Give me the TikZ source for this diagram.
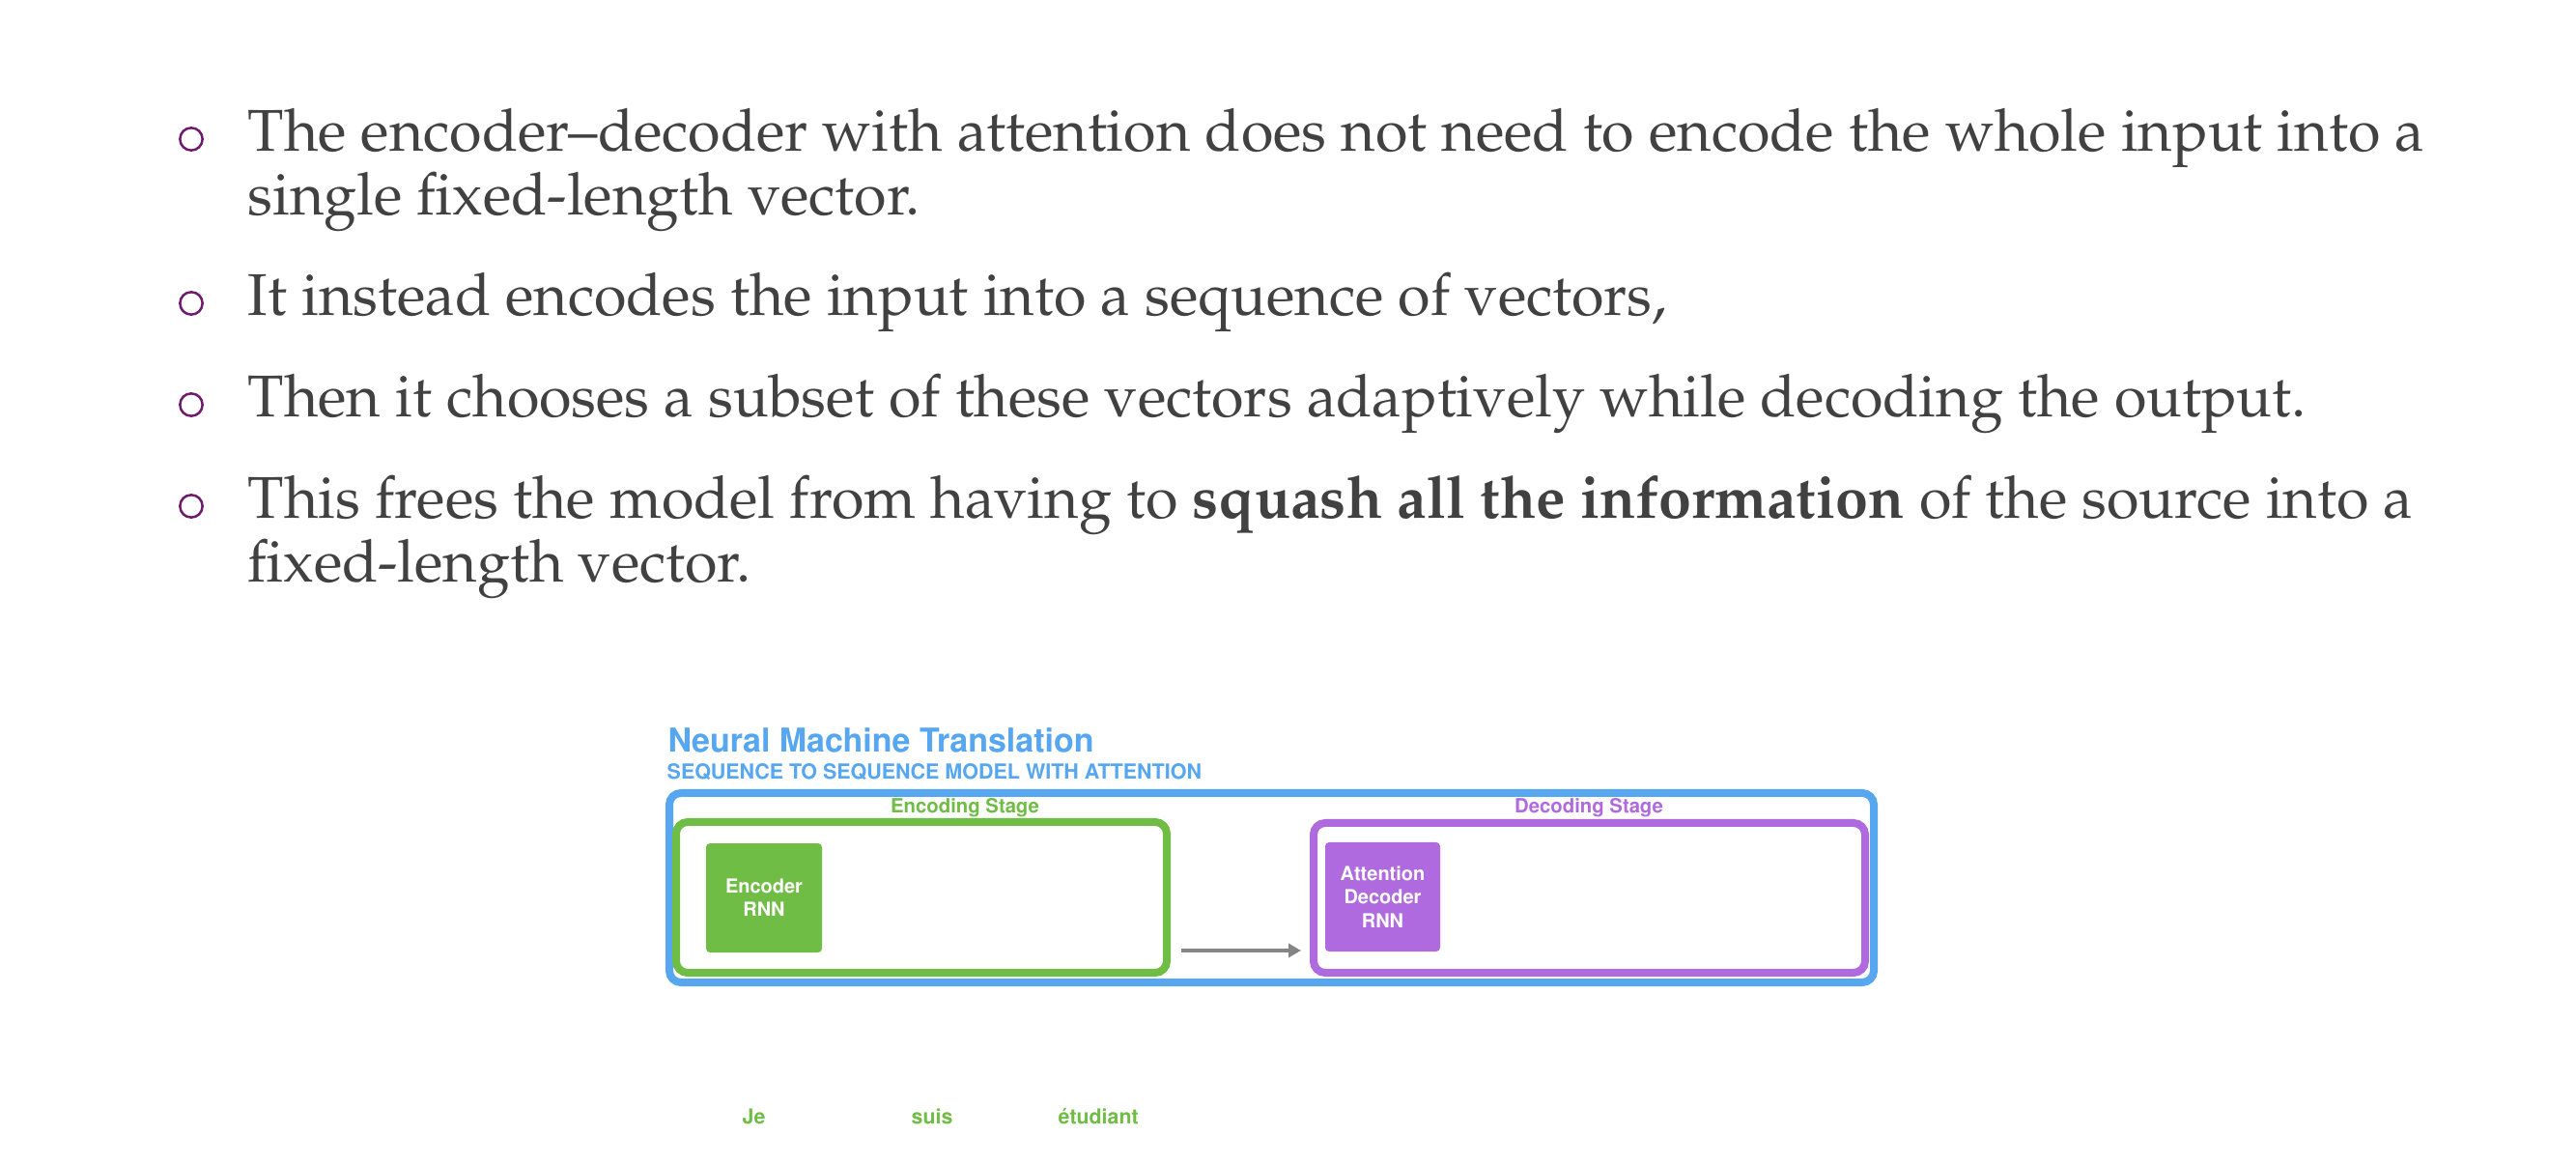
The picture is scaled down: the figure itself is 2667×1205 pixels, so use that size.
\documentclass[tikz,border=0pt]{standalone}
\usepackage[T1]{fontenc}
\usetikzlibrary{arrows.meta}
\definecolor{bodytext}{HTML}{414141}
\definecolor{bulletc}{HTML}{701A6E}
\definecolor{nmtblue}{HTML}{56A6F0}
\definecolor{encgreen}{HTML}{70BD46}
\definecolor{decpurple}{HTML}{B06AE0}
\definecolor{arrowgray}{HTML}{858585}
\tikzset{
  body/.style={anchor=base west, inner sep=0pt, text=bodytext,
    font={\usefont{T1}{ppl}{m}{n}\fontsize{18.3pt}{19.6pt}\selectfont}},
  bul/.style={circle, draw=bulletc, line width=0.75pt, minimum size=7pt, inner sep=0pt},
  sansb/.style={inner sep=0pt, font={\usefont{T1}{phv}{b}{n}\fontsize{#1}{1.2\dimexpr#1\relax}\selectfont}},
  stagebox/.style={draw=#1, line width=2.4pt, rounded corners=3.6pt, inner sep=0pt},
  rnnbox/.style={fill=#1, rounded corners=1.2pt, inner sep=0pt, text=white, align=center,
    font={\usefont{T1}{phv}{b}{n}\fontsize{6pt}{7.4pt}\selectfont}},
}
\begin{document}
\begin{tikzpicture}[x=0.3pt,y=-0.3pt]
\fill[white] (0,0) rectangle (2667,1205);
\useasboundingbox (0,0) rectangle (2667,1205);

% bullets
\node[bul] (b1) at (198,144) {};
\node[bul] (b2) at (198,314) {};
\node[bul] (b3) at (198,419) {};
\node[bul] (b4) at (198,524) {};

% body text
\node[body] (l1) at (256,157) {The encoder--decoder with attention does not need to encode the whole input into a};
\node[body] (l2) at (256,223) {single fixed-length vector.};
\node[body] (l3) at (256,327) {It instead encodes the input into a sequence of vectors,};
\node[body] (l4) at (256,432) {Then it chooses a subset of these vectors adaptively while decoding the output.};
\node[body] (l5) at (256,537) {This frees the model from having to \textbf{squash all the information} of the source into a};
\node[body] (l6) at (256,603) {fixed-length vector.};

% diagram titles
\node[sansb=10.2pt, text=nmtblue, anchor=base west] (title) at (691,779) {Neural Machine Translation};
\node[sansb=6.45pt, text=nmtblue, anchor=base west] (subtitle) at (690,807) {SEQUENCE TO SEQUENCE MODEL WITH ATTENTION};

% boxes
\node[draw=nmtblue, line width=2.4pt, rounded corners=3.6pt, inner sep=0pt,
      minimum width=1247*0.3pt, minimum height=196*0.3pt] (outer) at (1316.5,919) {};
\node[stagebox=encgreen, minimum width=508*0.3pt, minimum height=156*0.3pt] (encstage) at (954,929) {};
\node[stagebox=decpurple, minimum width=571*0.3pt, minimum height=155*0.3pt] (decstage) at (1645.5,929.5) {};

\node[sansb=6.1pt, text=encgreen, anchor=base] (enclabel) at (999,842) {Encoding Stage};
\node[sansb=6.1pt, text=decpurple, anchor=base] (declabel) at (1645,842) {Decoding Stage};

\node[rnnbox=encgreen, minimum width=120*0.3pt, minimum height=113*0.3pt] (enc) at (791,929.5) {Encoder\\RNN};
\node[rnnbox=decpurple, minimum width=119*0.3pt, minimum height=113*0.3pt] (dec) at (1431.5,928.5) {Attention\\Decoder\\RNN};

% arrow
\draw[arrowgray, line width=1.1pt, -{Triangle[length=3.9pt,width=4.2pt]}]
  ([shift={(11,-27)}]encstage.south east) -- ([shift={(-9,-27)}]decstage.south west);

% words
\node[sansb=6.4pt, text=encgreen, anchor=base west] (w1) at (768,1163) {Je};
\node[sansb=6.4pt, text=encgreen, anchor=base west] (w2) at (943,1163) {suis};
\node[sansb=6.4pt, text=encgreen, anchor=base west] (w3) at (1095,1163) {\'etudiant};
\end{tikzpicture}
\end{document}
